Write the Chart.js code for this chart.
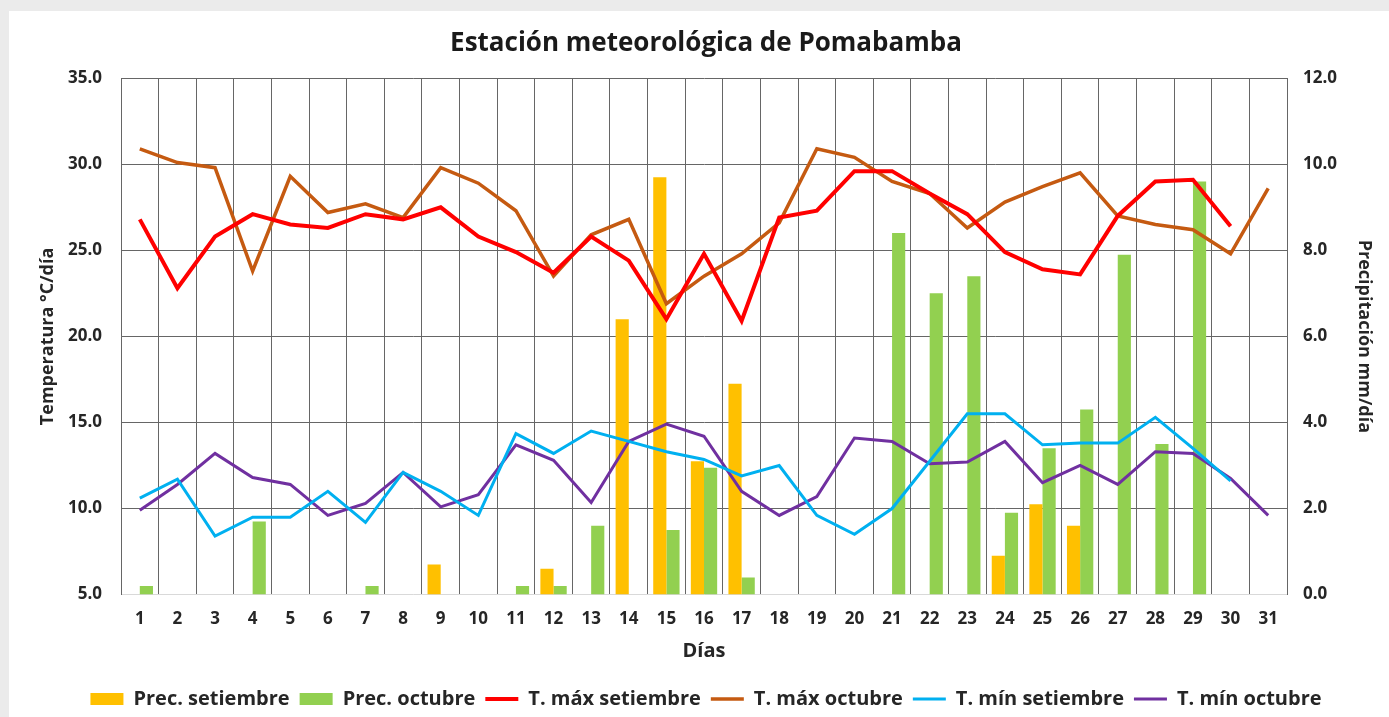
<!DOCTYPE html>
<html lang="es">
<head>
<meta charset="utf-8">
<title>Estación meteorológica de Pomabamba</title>
<script src="https://cdn.jsdelivr.net/npm/chart.js@4/dist/chart.umd.min.js"></script>
<style>
  html, body { margin: 0; padding: 0; background: #ebebeb; }
  #wrap { position: relative; width: 1389px; height: 717px; overflow: hidden; }
  #panel { position: absolute; left: 9px; top: 11px; right: 0; bottom: 0; background: #ffffff; }
  #box { position: absolute; left: 0; top: 0; width: 1389px; height: 717px; }
</style>
</head>
<body>
<div id="wrap">
  <div id="panel"></div>
  <div id="box"><canvas id="climaChart"></canvas></div>
</div>
<script>
// Días del mes
const dias = ['1','2','3','4','5','6','7','8','9','10','11','12','13','14','15','16',
              '17','18','19','20','21','22','23','24','25','26','27','28','29','30','31'];

// Precipitación (mm/día)
const precSetiembre = [null, null, null, null, null, null, null, null, 0.7, null, null, 0.6, null, 6.4, 9.7, 3.1,
                       4.9, null, null, null, null, null, null, 0.9, 2.1, 1.6, null, null, null, null, null];
const precOctubre = [0.2, null, null, 1.7, null, null, 0.2, null, null, null, 0.2, 0.2, 1.6, null, 1.5, 2.95,
                     0.4, null, null, null, 8.4, 7.0, 7.4, 1.9, 3.4, 4.3, 7.9, 3.5, 9.6, null, null];

// Temperatura (°C/día)
const tMaxSetiembre = [26.8, 22.8, 25.8, 27.1, 26.5, 26.3, 27.1, 26.8, 27.5, 25.8, 24.9, 23.7, 25.8, 24.4, 21.0, 24.8,
                       20.9, 26.9, 27.3, 29.6, 29.6, 28.3, 27.1, 24.9, 23.9, 23.6, 27.0, 29.0, 29.1, 26.4, null];
const tMaxOctubre = [30.9, 30.1, 29.8, 23.8, 29.3, 27.2, 27.7, 26.9, 29.8, 28.9, 27.3, 23.5, 25.9, 26.8, 21.9, 23.5,
                     24.8, 26.6, 30.9, 30.4, 29.0, 28.3, 26.3, 27.8, 28.7, 29.5, 27.0, 26.5, 26.2, 24.8, 28.6];
const tMinSetiembre = [10.6, 11.7, 8.4, 9.5, 9.5, 11.0, 9.2, 12.1, 11.0, 9.6, 14.35, 13.2, 14.5, 13.9, 13.3, 12.85,
                       11.9, 12.5, 9.6, 8.5, 10.0, 12.75, 15.5, 15.5, 13.7, 13.8, 13.8, 15.3, 13.5, 11.6, null];
const tMinOctubre = [9.9, 11.4, 13.2, 11.8, 11.4, 9.6, 10.3, 12.1, 10.1, 10.8, 13.7, 12.8, 10.35, 13.9, 14.9, 14.2,
                     11.0, 9.6, 10.7, 14.1, 13.9, 12.6, 12.7, 13.9, 11.5, 12.5, 11.4, 13.3, 13.2, 11.75, 9.6];

// Ejes
const tempTicks = { min: 5, max: 35, step: 5 };
const precTicks = { min: 0, max: 12, step: 2 };

const fuente = '"Open Sans", "DejaVu Sans", sans-serif';
const colorTexto = '#262626';
const colorRejilla = '#666666';

function crearGrafico() {
    const canvas = document.getElementById('climaChart');
    if (!canvas) return;
    const ctx = canvas.getContext('2d');

    const lineas = [
        { label: 'T. máx setiembre', data: tMaxSetiembre, color: '#ff0000', ancho: 4 },
        { label: 'T. máx octubre', data: tMaxOctubre, color: '#c55a11', ancho: 3.5 },
        { label: 'T. mín setiembre', data: tMinSetiembre, color: '#00b0f0', ancho: 3 },
        { label: 'T. mín octubre', data: tMinOctubre, color: '#7030a0', ancho: 3 }
    ];

    window.climaChart = new Chart(ctx, {
        data: {
            labels: dias,
            datasets: [
                {
                    type: 'bar', label: 'Prec. setiembre', data: precSetiembre, yAxisID: 'y1',
                    backgroundColor: '#ffc000', borderWidth: 0, order: 1, pointStyle: 'rect',
                    categoryPercentage: 0.7, barPercentage: 1.0
                },
                {
                    type: 'bar', label: 'Prec. octubre', data: precOctubre, yAxisID: 'y1',
                    backgroundColor: '#92d050', borderWidth: 0, order: 1, pointStyle: 'rect',
                    categoryPercentage: 0.7, barPercentage: 1.0
                },
                ...lineas.map(l => ({
                    type: 'line', label: l.label, data: l.data, yAxisID: 'y',
                    borderColor: l.color, backgroundColor: l.color, borderWidth: l.ancho,
                    pointRadius: 0, pointStyle: 'line', tension: 0, spanGaps: false, order: 0
                }))
            ]
        },
        options: {
            responsive: true,
            maintainAspectRatio: false,
            animation: false,
            layout: { padding: { left: 37, right: 14, top: 20, bottom: -2 } },
            plugins: {
                title: {
                    display: true,
                    text: 'Estación meteorológica de Pomabamba',
                    color: '#1a1a1a',
                    font: { family: fuente, size: 26, weight: 'bold' },
                    padding: { top: 8, bottom: 19 }
                },
                legend: {
                    position: 'bottom',
                    labels: {
                        usePointStyle: true,
                        pointStyleWidth: 33,
                        boxHeight: 12,
                        padding: 10,
                        color: colorTexto,
                        font: { family: fuente, size: 20, weight: 'bold' },
                        sort: (a, b) => a.datasetIndex - b.datasetIndex
                    }
                },
                tooltip: { enabled: false }
            },
            scales: {
                x: {
                    offset: true,
                    grid: { display: true, offset: true, color: colorRejilla, lineWidth: 1, drawTicks: false },
                    border: { display: false },
                    ticks: { color: colorTexto, padding: 14, maxRotation: 0, autoSkip: false,
                             font: { family: fuente, size: 17, weight: 'bold' } },
                    title: { display: true, text: 'Días', color: colorTexto,
                             font: { family: fuente, size: 20, weight: 'bold' },
                             padding: { top: -4, bottom: 16 } }
                },
                y: {
                    position: 'left',
                    min: tempTicks.min, max: tempTicks.max,
                    grid: {
                        color: c => (c.tick && c.tick.value === tempTicks.min) ? '#d9d9d9' : colorRejilla,
                        lineWidth: 1, drawTicks: false
                    },
                    border: { display: true, color: colorRejilla },
                    ticks: { stepSize: tempTicks.step, padding: 19, color: colorTexto,
                             callback: v => Number(v).toFixed(1),
                             font: { family: fuente, size: 17, weight: 'bold' } },
                    title: { display: true, text: 'Temperatura °C/día', color: colorTexto,
                             font: { family: fuente, size: 18, weight: 'bold' },
                             padding: { top: 0, bottom: 0 } },
                    afterFit: s => { s.width = 84; }
                },
                y1: {
                    position: 'right',
                    min: precTicks.min, max: precTicks.max,
                    grid: { display: false, drawTicks: false },
                    border: { display: true, color: colorRejilla },
                    ticks: { stepSize: precTicks.step, padding: 16, color: colorTexto,
                             callback: v => Number(v).toFixed(1),
                             font: { family: fuente, size: 17, weight: 'bold' } },
                    title: { display: true, text: 'Precipitación mm/día', color: colorTexto,
                             font: { family: fuente, size: 18, weight: 'bold' },
                             padding: { top: 0, bottom: 0 } },
                    afterFit: s => { s.width = 88; }
                }
            }
        }
    });
}

if (typeof document !== 'undefined') {
    document.addEventListener('DOMContentLoaded', crearGrafico);
}
</script>
</body>
</html>
